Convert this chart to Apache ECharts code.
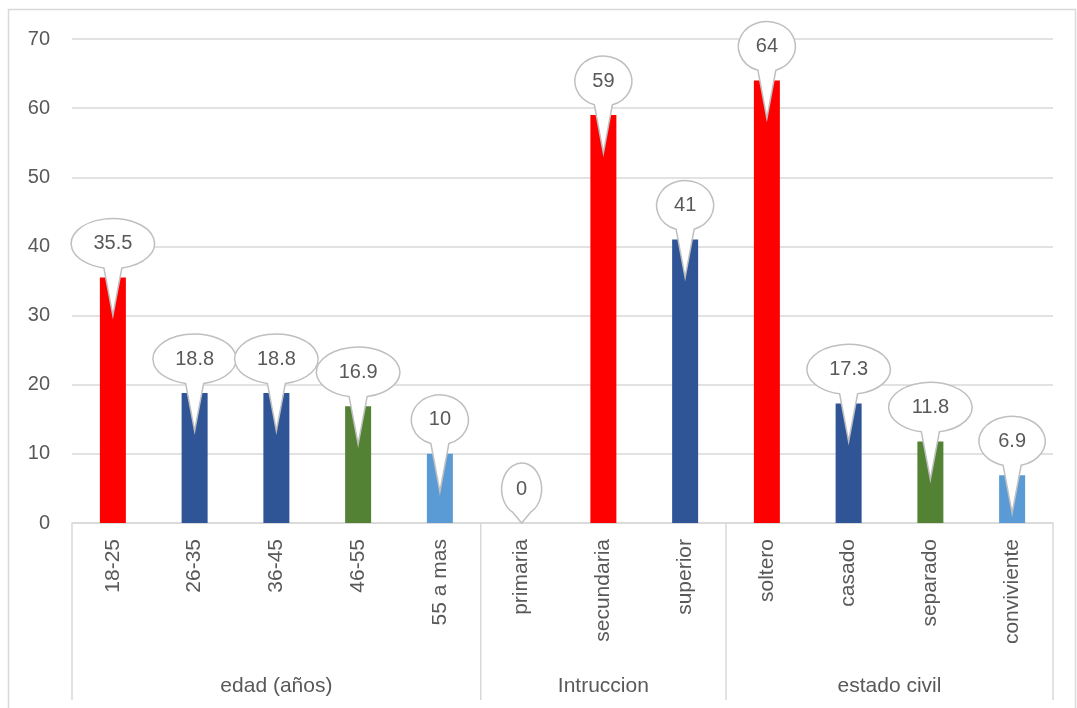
<!DOCTYPE html>
<html>
<head>
<meta charset="utf-8">
<script src="https://cdn.jsdelivr.net/npm/echarts@6/dist/echarts.min.js"></script>
<style>
html,body{margin:0;padding:0;background:#fff;}
#main{width:1077px;height:708px;}
</style>
</head>
<body>
<div id="main"></div>
<script>
// ---- data ----
const categories = ['18-25','26-35','36-45','46-55','55 a mas','primaria','secundaria','superior','soltero','casado','separado','conviviente'];
const values = [35.5, 18.8, 18.8, 16.9, 10, 0, 59, 41, 64, 17.3, 11.8, 6.9];
const colorKeys = ['red','blue','blue','green','light','red','red','blue','red','blue','green','light'];
const groupNames = ['edad (años)', 'Intruccion', 'estado civil'];
const groupSizes = [5, 3, 4];
const yTicks = [0,10,20,30,40,50,60,70];

const palette = {red:'#FF0000', blue:'#2F5597', green:'#548235', light:'#5B9BD5'};
const FONT = '"Liberation Sans", Arial, sans-serif';
const TXT = '#595959';
const GRID = '#D9D9D9';

const chart = echarts.init(document.getElementById('main'), null, {renderer:'canvas'});

function calloutItem(params, api) {
  const idx = api.value(0);
  const v = api.value(1);
  const top = api.coord([idx, v]);
  const zero = api.coord([idx, 0]);
  const cx = top[0];
  const cy = top[1] - 34;
  const tipY = Math.min(top[1] + 38, zero[1]);
  const label = String(values[idx]);
  const textW = label.length * 11 - (label.indexOf('.') >= 0 ? 5 : 0);
  const rx = (1.55 * textW + 23) / 2;
  const ry = label.length === 1 ? 26 : 25;
  const half = 9;
  const ay = cy + ry * Math.sqrt(1 - (half * half) / (rx * rx));
  const path = 'M' + (cx + half) + ' ' + ay +
    ' A' + rx + ' ' + ry + ' 0 1 0 ' + (cx - half) + ' ' + ay +
    ' L' + cx + ' ' + tipY + ' Z';
  return {
    type: 'group',
    children: [
      {type:'path', shape:{pathData:path},
       style:{fill:'#ffffff', stroke:'#BFBFBF', lineWidth:1.5}},
      {type:'text', style:{text:label, x:cx, y:cy, align:'center', verticalAlign:'middle',
        font:'20px ' + FONT, fill:TXT}}
    ]
  };
}

const option = {
  animation:false,
  backgroundColor:'#ffffff',
  grid:{left:72, right:24, top:39, bottom:185, containLabel:false},
  xAxis:{
    type:'category', data:categories,
    axisLine:{show:true, lineStyle:{color:GRID, width:1.5}},
    axisTick:{show:false},
    axisLabel:{rotate:90, margin:16, color:TXT, fontSize:21, fontFamily:FONT, interval:0}
  },
  yAxis:{
    type:'value', min:0, max:70, interval:10,
    axisLine:{show:false}, axisTick:{show:false},
    axisLabel:{color:TXT, fontSize:20, fontFamily:FONT, margin:22},
    splitLine:{lineStyle:{color:GRID, width:1.5}}
  },
  series:[
    {
      type:'bar', barWidth:26,
      data: values.map((v,i)=>({value:v, itemStyle:{color:palette[colorKeys[i]]}})),
      z:2
    },
    {
      type:'custom', z:5,
      data: values.map((v,i)=>[i, v]),
      renderItem: calloutItem
    }
  ]
};
chart.setOption(option);

// group separators and group labels from axis scale
const gs = [];
let start = 0;
const zeroPt = chart.convertToPixel({gridIndex:0}, [0, 0]);
const axisY = zeroPt[1];
const p0 = chart.convertToPixel({xAxisIndex:0}, 0);
const p1 = chart.convertToPixel({xAxisIndex:0}, 1);
const band = p1 - p0;
const bounds = [];
groupSizes.forEach((n, gi) => {
  const left = chart.convertToPixel({xAxisIndex:0}, start) - band/2;
  const right = chart.convertToPixel({xAxisIndex:0}, start + n - 1) + band/2;
  bounds.push(left);
  if (gi === groupSizes.length - 1) bounds.push(right);
  gs.push({type:'text', style:{text:groupNames[gi], x:(left+right)/2, y:axisY+163,
    textAlign:'center', textVerticalAlign:'middle', font:'21px ' + FONT, fill:TXT}});
  start += n;
});
bounds.forEach(x => {
  gs.push({type:'line', shape:{x1:x, y1:axisY, x2:x, y2:axisY+177},
    style:{stroke:GRID, lineWidth:1.5}});
});
gs.push({type:'rect', shape:{x:8.5, y:9.5, width:1067, height:710},
  style:{fill:'none', stroke:GRID, lineWidth:1.5}, z:-1});
chart.setOption({graphic: gs});
</script>
</body>
</html>
